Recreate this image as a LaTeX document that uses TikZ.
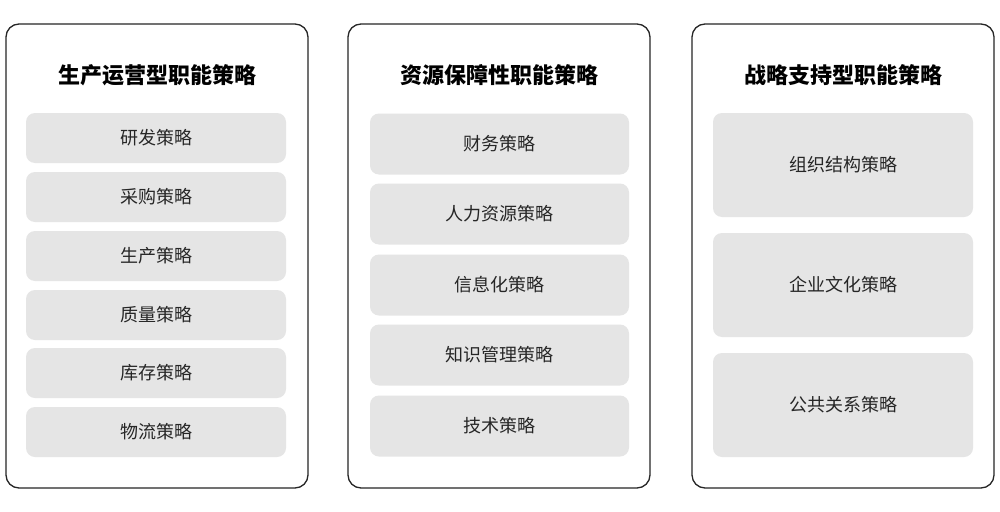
\documentclass[tikz,border=0pt]{standalone}
\usepackage{fontspec}
\setmainfont{Noto Sans CJK SC}
\begin{document}
\begin{tikzpicture}[x=1pt,y=-1pt,
 outer/.style={draw=black!85,line width=1.3pt,rounded corners=13pt,fill=white},
 item/.style={fill=black!10,rounded corners=9pt,font=\fontsize{18}{20}\selectfont,text=black!85},
 ttl/.style={font=\fontsize{22}{24}\selectfont\bfseries,text=black}]
\useasboundingbox[fill=white] (0,0) rectangle (1000,511);
\foreach \x/\n in {6/a,348/b,692/c}{
 \draw[outer] (\x,24) rectangle ++(302,464);
}
\node[ttl] (ta) at (157,75) {生产运营型职能策略};
\node[ttl] (tb) at (499,75) {资源保障性职能策略};
\node[ttl] (tc) at (843,75) {战略支持型职能策略};
\foreach \c/\t [count=\i] in {138/研发策略,197/采购策略,256/生产策略,315/质量策略,373/库存策略,432/物流策略}{
 \path[item] (26,\c-25) rectangle (286,\c+25);
 \node[item,fill=none] (l\i) at (156,\c) {\t};
}
\foreach \c/\t [count=\i] in {144/财务策略,214/人力资源策略,285/信息化策略,355/知识管理策略,426/技术策略}{
 \path[item] (370,\c-30.5) rectangle (629,\c+30.5);
 \node[item,fill=none] (m\i) at (499,\c) {\t};
}
\foreach \c/\t [count=\i] in {165/组织结构策略,285/企业文化策略,405/公共关系策略}{
 \path[item] (713,\c-52) rectangle (973,\c+52);
 \node[item,fill=none] (r\i) at (843,\c) {\t};
}
\end{tikzpicture}
\end{document}
